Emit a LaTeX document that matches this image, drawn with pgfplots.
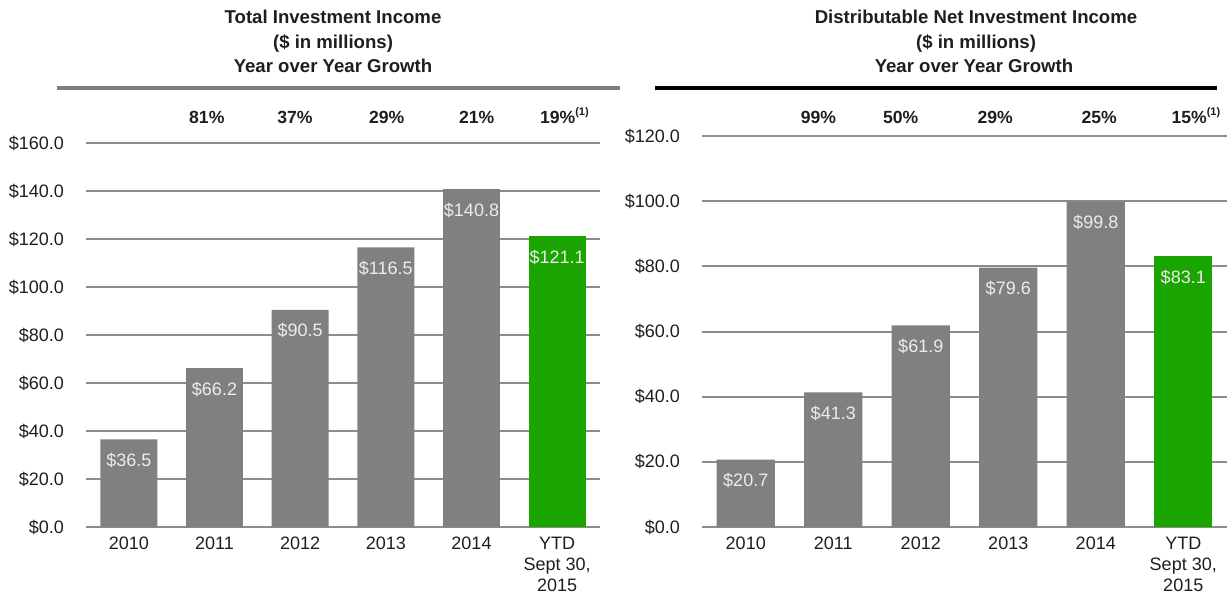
\documentclass[border=0pt]{standalone}
\usepackage{fontspec}
\setmainfont{Liberation Sans}
\usepackage{pgfplots}
\pgfplotsset{compat=1.18}
\definecolor{bargray}{RGB}{128,128,128}
\definecolor{ytdgreen}{RGB}{26,165,0}
\definecolor{gridgray}{RGB}{140,140,140}
\definecolor{lblwhite}{RGB}{236,236,236}
\definecolor{txt}{RGB}{30,30,30}

\tikzset{growth/.style={font=\bfseries\fontsize{8.8}{10.5}\selectfont, anchor=base, text=txt}}

\pgfplotsset{
  panel/.style={
    scale only axis, anchor=south west,
    xmin=-0.5, xmax=5.5, ymin=0,
    xtick={0,...,5},
    xticklabels={2010,2011,2012,2013,2014,{YTD\\Sept 30,\\2015}},
    xticklabel style={align=center, font=\fontsize{9}{10.4}\selectfont, text=txt, yshift=-1.5pt},
    yticklabel style={font=\fontsize{9}{10.8}\selectfont, text=txt, xshift=-7.5pt},
    yticklabel={\$\pgfmathprintnumber[fixed,fixed zerofill,precision=1]{\tick}},
    /pgf/number format/assume math mode=true,
    axis line style={draw=none},
    major tick length=0pt,
    ymajorgrids, grid style={gridgray, line width=1pt},
    clip=false,
    nodes near coords={\$\pgfmathprintnumber[fixed,fixed zerofill,precision=1]{\pgfplotspointmeta}},
    every node near coord/.append style={anchor=center, yshift=-10.5pt, text=lblwhite,
      font=\fontsize{9}{10.8}\selectfont},
  },
  colbar/.style={ybar, bar width=0.665, draw=none, fill=#1},
}

\begin{document}
\begin{tikzpicture}
\useasboundingbox (0,0) rectangle (615pt,298pt);

% titles and rules
\begin{scope}[every node/.style={font=\bfseries\fontsize{9.3}{11}\selectfont, anchor=base, text=txt}]
\node at (166.5pt,286pt) {Total Investment Income};
\node at (166.5pt,273.75pt) {(\$ in millions)};
\node at (166.5pt,261.75pt) {Year over Year Growth};
\node at (488pt,286pt) {Distributable Net Investment Income};
\node at (488pt,273.75pt) {(\$ in millions)};
\node at (487pt,261.75pt) {Year over Year Growth};
\end{scope}
\draw[gridgray!90!black, line width=1.6pt] (28.25pt,254pt) -- (310pt,254pt);
\draw[black, line width=1.6pt] (327.5pt,254pt) -- (608.5pt,254pt);

% Total Investment Income
\begin{axis}[panel, at={(43pt,34.5pt)}, width=257pt, height=192pt,
  ymax=160, ytick={0,20,...,160}]
\addplot[colbar=bargray] coordinates {(0,36.5) (1,66.2) (2,90.5) (3,116.5) (4,140.8)};
\addplot[colbar=ytdgreen] coordinates {(5,121.1)};
\node[growth] at (axis cs:0.91,168.2) {81\%};
\node[growth] at (axis cs:1.94,168.2) {37\%};
\node[growth] at (axis cs:3.01,168.2) {29\%};
\node[growth] at (axis cs:4.06,168.2) {21\%};
\node[growth] at (axis cs:5.09,168.2) {19\%\textsuperscript{\fontsize{5.5}{6}\selectfont(1)}};
\end{axis}

% Distributable Net Investment Income
\begin{axis}[panel, at={(351pt,34.5pt)}, width=262.5pt, height=195.5pt,
  ymax=120, ytick={0,20,...,120}]
\addplot[colbar=bargray] coordinates {(0,20.7) (1,41.3) (2,61.9) (3,79.6) (4,99.8)};
\addplot[colbar=ytdgreen] coordinates {(5,83.1)};
\node[growth] at (axis cs:0.83,123.9) {99\%};
\node[growth] at (axis cs:1.77,123.9) {50\%};
\node[growth] at (axis cs:2.85,123.9) {29\%};
\node[growth] at (axis cs:4.04,123.9) {25\%};
\node[growth] at (axis cs:5.15,123.9) {15\%\textsuperscript{\fontsize{5.5}{6}\selectfont(1)}};
\end{axis}
\end{tikzpicture}
\end{document}
